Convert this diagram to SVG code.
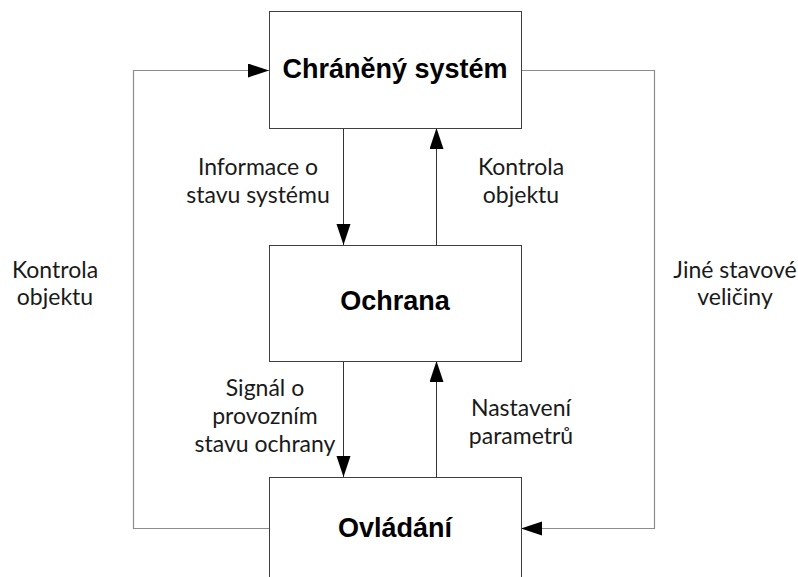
<svg xmlns="http://www.w3.org/2000/svg" width="798" height="577" viewBox="0 0 798 577">
  <style>
    .box { fill: #ffffff; stroke: #404040; stroke-width: 1; }
    .title { font-family: "Liberation Sans", Arial, sans-serif; font-weight: bold; font-size: 27px; fill: #000000; text-anchor: middle; }
    .lbl { font-family: Lato, "Open Sans", sans-serif; font-size: 23px; fill: #1a1a1a; text-anchor: middle; }
    .wire { fill: none; stroke: #333333; stroke-width: 1; }
    .loop { fill: none; stroke: #8c8c8c; stroke-width: 1.2; }
  </style>
  <defs>
    <marker id="head" markerUnits="userSpaceOnUse" markerWidth="22" markerHeight="15" refX="21" refY="7" orient="auto">
      <path d="M0,0 L21,7 L0,14 z" fill="#000000"/>
    </marker>
  </defs>
  <rect width="798" height="577" fill="#ffffff"/>

  <g id="connectors">
    <!-- vertical links between the three blocks -->
    <line class="wire" x1="343.5" y1="128" x2="343.5" y2="245" marker-end="url(#head)"/>
    <line class="wire" x1="436.5" y1="245" x2="436.5" y2="128" marker-end="url(#head)"/>
    <line class="wire" x1="343.5" y1="361" x2="343.5" y2="477" marker-end="url(#head)"/>
    <line class="wire" x1="436.5" y1="477" x2="436.5" y2="361" marker-end="url(#head)"/>
    <!-- outer feedback loops -->
    <polyline class="loop" points="269,528.5 133.5,528.5 133.5,70.5 269,70.5" marker-end="url(#head)"/>
    <polyline class="loop" points="522,70.5 654.5,70.5 654.5,528.5 521,528.5" marker-end="url(#head)"/>
  </g>

  <g id="chraneny-system">
    <rect class="box" x="269.5" y="11.5" width="252" height="117"/>
    <text class="title" x="395" y="78">Chráněný systém</text>
  </g>

  <g id="ochrana">
    <rect class="box" x="269.5" y="245.5" width="252" height="116"/>
    <text class="title" x="395" y="310">Ochrana</text>
  </g>

  <g id="ovladani">
    <rect class="box" x="269.5" y="477.5" width="252" height="130"/>
    <text class="title" x="395" y="537">Ovládání</text>
  </g>

  <g id="labels">
    <text class="lbl" x="258" y="175">Informace o</text>
    <text class="lbl" x="258" y="203">stavu systému</text>
    <text class="lbl" x="521" y="175">Kontrola</text>
    <text class="lbl" x="521" y="203">objektu</text>
    <text class="lbl" x="55" y="278">Kontrola</text>
    <text class="lbl" x="55" y="305">objektu</text>
    <text class="lbl" x="735" y="278">Jiné stavové</text>
    <text class="lbl" x="735" y="305">veličiny</text>
    <text class="lbl" x="265" y="396">Signál o</text>
    <text class="lbl" x="265" y="424">provozním</text>
    <text class="lbl" x="265" y="452">stavu ochrany</text>
    <text class="lbl" x="521" y="416">Nastavení</text>
    <text class="lbl" x="521" y="444">parametrů</text>
  </g>
</svg>
